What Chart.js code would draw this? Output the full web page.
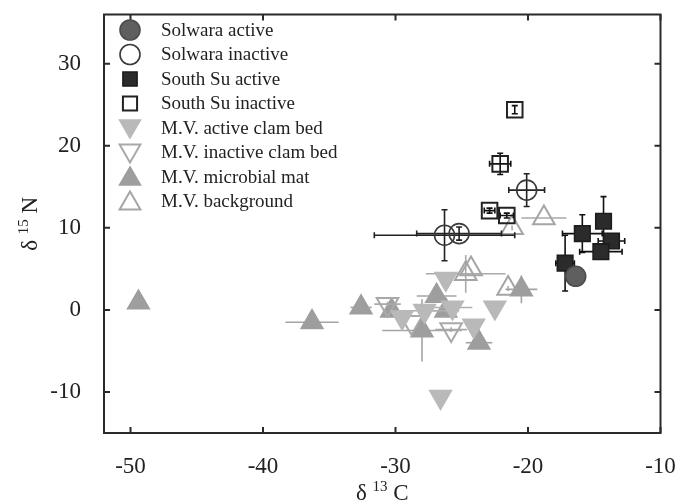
<!DOCTYPE html>
<html>
<head>
<meta charset="utf-8">
<script src="https://cdn.jsdelivr.net/npm/chart.js@4.4.0/dist/chart.umd.min.js"></script>
<style>
  html, body { margin: 0; padding: 0; background: #fff; }
  #wrap { width: 675px; height: 504px; }
</style>
</head>
<body>
<div id="wrap"><canvas id="isoChart" width="675" height="504"></canvas></div>
<script>
// axis ticks
const xTicks = [-50, -40, -30, -20, -10];
const yTicks = [-10, 0, 10, 20, 30];

// Solwara active
const solActX = [-16.4];
const solActY = [4.1];
const solActXe = [0];
const solActYe = [0];

// Solwara inactive
const solInX = [-26.3, -25.2, -20.1];
const solInY = [9.1, 9.3, 14.6];
const solInXe = [5.3, 3.2, 1.35];
const solInYe = [3.1, 0.8, 2.0];

// South Su active
const ssActX = [-14.3, -15.9, -13.7, -14.5, -17.2];
const ssActY = [10.8, 9.3, 8.4, 7.1, 5.7];
const ssActXe = [0, 1.5, 1.0, 1.6, 0.7];
const ssActYe = [3.0, 2.3, 0, 0.9, 3.4];

// South Su inactive
const ssInX = [-21.0, -22.1, -22.9, -21.6];
const ssInY = [24.4, 17.8, 12.1, 11.5];
const ssInXe = [0, 0.8, 0.4, 0.5];
const ssInYe = [0.5, 1.3, 0.3, 0.3];

// M.V. active clam bed
const mvActX = [-26.2, -29.5, -27.8, -25.7, -22.5, -24.1, -26.6];
const mvActY = [3.8, -0.9, -0.1, 0.3, 0.3, -1.9, -10.6];
const mvActXe = [0, 0, 2.0, 1.5, 0, 0, 0];
const mvActYe = [0, 0, 0, 0, 0, 0, 0];

// M.V. inactive clam bed
const mvInX = [-30.6, -28.8, -25.8];
const mvInY = [0.7, -1.5, -2.4];
const mvInXe = [1.0, 0, 1.2];
const mvInYe = [0.3, 0, 0.3];

// M.V. microbial mat
const mvMatX = [-49.4, -36.3, -32.6, -30.3, -26.9, -28.0, -26.2, -23.7, -20.5];
const mvMatY = [0.9, -1.5, 0.3, -0.1, 1.7, -2.5, -0.1, -4.0, 2.5];
const mvMatXe = [0, 2.0, 0.8, 0, 1.5, 3.0, 1.0, 1.0, 1.2];
const mvMatYe = [0, 0.5, 0, 0, 0, 3.8, 0, 0, 1.7];

// M.V. background
const mvBgX = [-18.8, -21.2, -24.7, -24.3, -21.5];
const mvBgY = [11.2, 10.0, 4.4, 5.0, 2.6];
const mvBgXe = [1.7, 0, 3.0, 0, 0];
const mvBgYe = [0, 0.3, 2.3, 0, 0.3];

const serif = "'Liberation Serif', 'DejaVu Serif', serif";

function pts(xs, ys) {
  return xs.map((x, i) => ({ x: x, y: ys[i] }));
}

function series(label, xs, ys, xe, ye, style) {
  return Object.assign({
    label: label,
    data: pts(xs, ys),
    xErr: xe,
    yErr: ye,
    borderWidth: 1.6,
    pointHoverRadius: 0
  }, style);
}

const datasets = [
  series("Solwara active", solActX, solActY, solActXe, solActYe,
    { pointStyle: "circle", pointRadius: 10, backgroundColor: "#5f5f5f", borderColor: "#4c4c4c", barColor: "#222", caps: true }),
  series("Solwara inactive", solInX, solInY, solInXe, solInYe,
    { pointStyle: "circle", pointRadius: 10, backgroundColor: "rgba(255,255,255,0)", borderColor: "#3a3a3a", barColor: "#222", caps: true }),
  series("South Su active", ssActX, ssActY, ssActXe, ssActYe,
    { pointStyle: "rect", pointRadius: 11, backgroundColor: "#2b2b2b", borderColor: "#1c1c1c", barColor: "#111", caps: true }),
  series("South Su inactive", ssInX, ssInY, ssInXe, ssInYe,
    { pointStyle: "rect", pointRadius: 11, backgroundColor: "rgba(255,255,255,0)", borderColor: "#222", borderWidth: 2, barColor: "#111", caps: true }),
  series("M.V. active clam bed", mvActX, mvActY, mvActXe, mvActYe,
    { pointStyle: "triangle", pointRotation: 180, pointRadius: 12.5, backgroundColor: "#b9b9b9", borderColor: "#b9b9b9", barColor: "#b0b0b0", caps: false }),
  series("M.V. inactive clam bed", mvInX, mvInY, mvInXe, mvInYe,
    { pointStyle: "triangle", pointRotation: 180, pointRadius: 12.5, backgroundColor: "rgba(255,255,255,0)", borderColor: "#a9a9a9", borderWidth: 2, barColor: "#a9a9a9", caps: false }),
  series("M.V. microbial mat", mvMatX, mvMatY, mvMatXe, mvMatYe,
    { pointStyle: "triangle", pointRadius: 12.5, backgroundColor: "#9e9e9e", borderColor: "#9e9e9e", barColor: "#a4a4a4", caps: false }),
  series("M.V. background", mvBgX, mvBgY, mvBgXe, mvBgYe,
    { pointStyle: "triangle", pointRadius: 12.5, backgroundColor: "rgba(255,255,255,0)", borderColor: "#a5a5a5", borderWidth: 2, barColor: "#a9a9a9", caps: false })
];

// error bars, drawn just before each dataset's markers
const errorBars = {
  id: "errorBars",
  beforeDatasetDraw(chart, args) {
    const ds = chart.data.datasets[args.index];
    const xs = chart.scales.x, ys = chart.scales.y;
    const ctx = chart.ctx;
    ctx.save();
    ctx.strokeStyle = ds.barColor;
    ctx.lineWidth = 1.6;
    ds.data.forEach((p, i) => {
      const px = xs.getPixelForValue(p.x), py = ys.getPixelForValue(p.y);
      const ex = ds.xErr[i], ey = ds.yErr[i];
      ctx.beginPath();
      if (ex > 0) {
        const l = xs.getPixelForValue(p.x - ex), r = xs.getPixelForValue(p.x + ex);
        ctx.moveTo(l, py); ctx.lineTo(r, py);
        if (ds.caps) {
          ctx.moveTo(l, py - 3); ctx.lineTo(l, py + 3);
          ctx.moveTo(r, py - 3); ctx.lineTo(r, py + 3);
        }
      }
      if (ey > 0) {
        const t = ys.getPixelForValue(p.y + ey), b = ys.getPixelForValue(p.y - ey);
        ctx.moveTo(px, t); ctx.lineTo(px, b);
        if (ds.caps) {
          ctx.moveTo(px - 3, t); ctx.lineTo(px + 3, t);
          ctx.moveTo(px - 3, b); ctx.lineTo(px + 3, b);
        }
      }
      ctx.stroke();
    });
    ctx.restore();
  }
};

function drawSupText(ctx, parts, x, y) {
  let w = 0;
  parts.forEach(p => { ctx.font = p.size + "px " + serif; p.w = ctx.measureText(p.t).width; w += p.w; });
  let cx = x - w / 2;
  parts.forEach(p => {
    ctx.font = p.size + "px " + serif;
    ctx.fillText(p.t, cx, y - (p.rise || 0));
    cx += p.w;
  });
}

// frame, inward ticks on all sides, axis titles and legend
const decorations = {
  id: "decorations",
  afterDraw(chart) {
    const ctx = chart.ctx;
    const a = chart.chartArea;
    const xs = chart.scales.x, ys = chart.scales.y;
    ctx.save();
    ctx.strokeStyle = "#2a2a2a";
    ctx.lineWidth = 2;
    ctx.strokeRect(a.left, a.top, a.right - a.left, a.bottom - a.top);
    ctx.beginPath();
    xTicks.forEach(v => {
      const px = xs.getPixelForValue(v);
      ctx.moveTo(px, a.bottom); ctx.lineTo(px, a.bottom - 6);
      ctx.moveTo(px, a.top); ctx.lineTo(px, a.top + 6);
    });
    yTicks.forEach(v => {
      const py = ys.getPixelForValue(v);
      ctx.moveTo(a.left, py); ctx.lineTo(a.left + 6, py);
      ctx.moveTo(a.right, py); ctx.lineTo(a.right - 6, py);
    });
    ctx.stroke();

    ctx.fillStyle = "#222";
    ctx.textBaseline = "alphabetic";
    ctx.textAlign = "left";
    drawSupText(ctx, [{ t: "δ ", size: 23 }, { t: "13", size: 15, rise: 9 }, { t: " C", size: 23 }],
      (a.left + a.right) / 2, 500);

    ctx.save();
    ctx.translate(37, (a.top + a.bottom) / 2);
    ctx.rotate(-Math.PI / 2);
    drawSupText(ctx, [{ t: "δ ", size: 23 }, { t: "15", size: 15, rise: 9 }, { t: " N", size: 23 }], 0, 0);
    ctx.restore();

    // legend
    ctx.font = "19px " + serif;
    ctx.textBaseline = "middle";
    chart.data.datasets.forEach((ds, i) => {
      const ly = 30 + i * 24.5;
      ctx.save();
      ctx.fillStyle = ds.backgroundColor;
      ctx.strokeStyle = ds.borderColor;
      ctx.lineWidth = ds.borderWidth;
      Chart.helpers.drawPoint(ctx, {
        pointStyle: ds.pointStyle,
        radius: ds.pointStyle === "triangle" ? 12 : 10,
        rotation: ds.pointRotation || 0,
        borderWidth: ds.borderWidth
      }, 130, ly + (ds.pointStyle === "triangle" ? (ds.pointRotation ? -2 : 2) : 0));
      ctx.restore();
      ctx.fillStyle = "#222";
      ctx.fillText(ds.label, 161, ly + 1);
    });
    ctx.restore();
  }
};

const ctx = document.getElementById("isoChart").getContext("2d");
const chart = new Chart(ctx, {
  type: "scatter",
  data: { datasets: datasets },
  options: {
    responsive: false,
    animation: false,
    events: [],
    layout: { padding: { top: 13, right: 14, left: 0, bottom: 0 } },
    plugins: {
      legend: { display: false },
      tooltip: { enabled: false }
    },
    scales: {
      x: {
        type: "linear",
        min: -52,
        max: -10,
        grid: { display: false },
        border: { display: false },
        ticks: { font: { family: serif, size: 23 }, color: "#222", padding: 12 },
        afterBuildTicks: s => { s.ticks = xTicks.map(v => ({ value: v })); },
        afterFit: s => { s.height = 71; s.paddingLeft = 0; s.paddingRight = 0; }
      },
      y: {
        type: "linear",
        min: -15,
        max: 36,
        grid: { display: false },
        border: { display: false },
        ticks: { font: { family: serif, size: 23 }, color: "#222", padding: 15 },
        afterBuildTicks: s => { s.ticks = yTicks.map(v => ({ value: v })); },
        afterFit: s => { s.width = 104; s.paddingTop = 0; s.paddingBottom = 0; }
      }
    }
  },
  plugins: [errorBars, decorations]
});
</script>
</body>
</html>
